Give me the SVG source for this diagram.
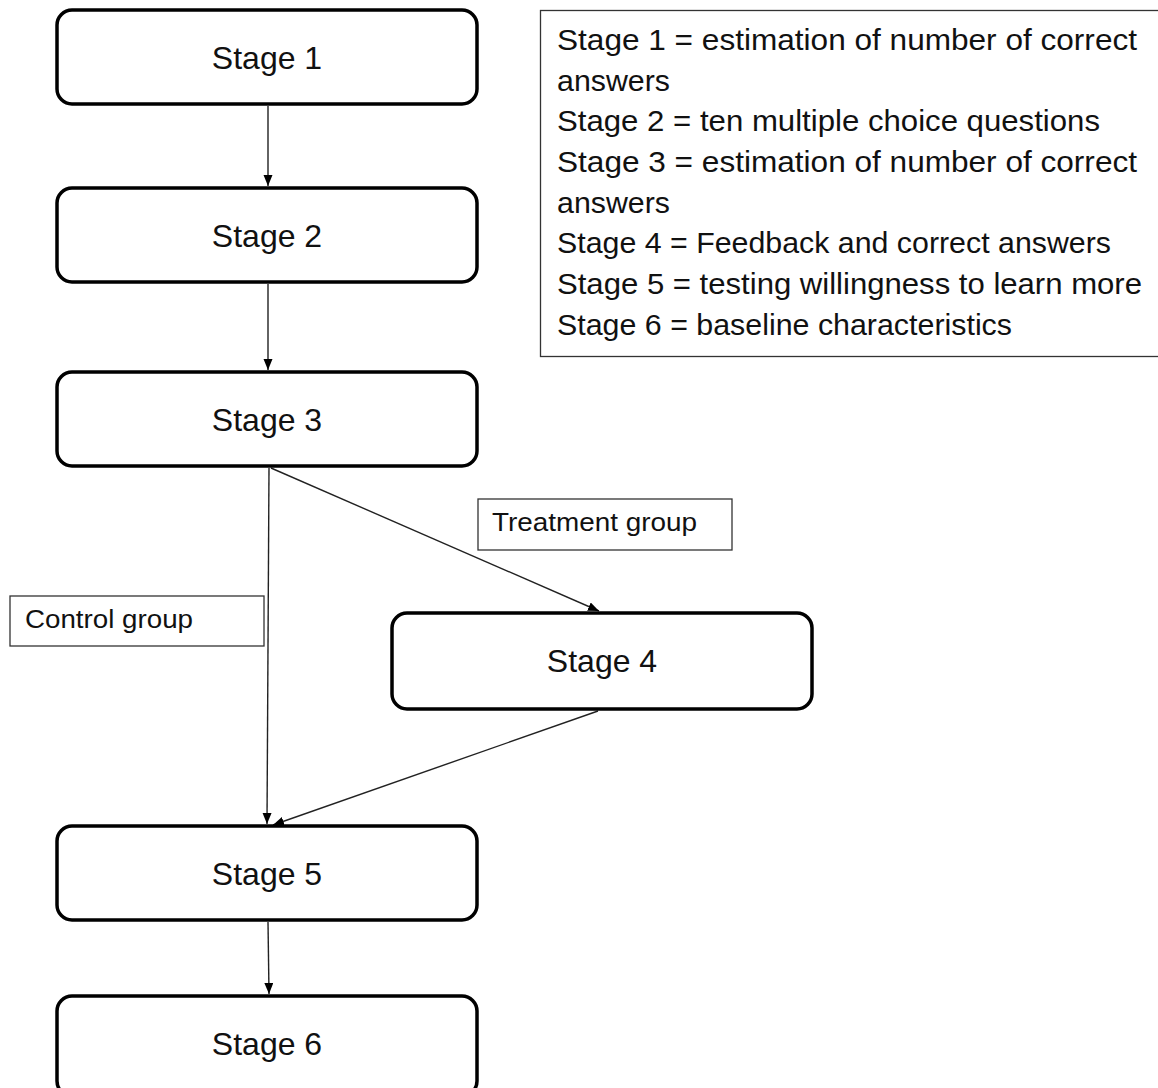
<svg xmlns="http://www.w3.org/2000/svg" width="1158" height="1088" viewBox="0 0 1158 1088">
<style>
.node{fill:#fff;stroke:#000;stroke-width:3.5}
.stxt{font-family:"Liberation Sans",Arial,sans-serif;font-size:32px;fill:#111;text-anchor:middle}
.lbl{fill:#fff;stroke:#333;stroke-width:1.3}
.ltxt{font-family:"Liberation Sans",Arial,sans-serif;font-size:26px;fill:#111}
.leg{font-family:"Liberation Sans",Arial,sans-serif;font-size:29px;fill:#111}
.conn{stroke:#222;stroke-width:1.4;fill:none;marker-end:url(#ah)}
</style>
<defs>
<marker id="ah" markerUnits="userSpaceOnUse" markerWidth="12" markerHeight="10" refX="11" refY="4.5" orient="auto">
<path d="M0,0 L11,4.5 L0,9 z" fill="#000"/>
</marker>
</defs>
<rect width="1158" height="1088" fill="#fff"/>
<g id="connectors">
<line class="conn" x1="268" y1="106" x2="268" y2="186"/>
<line class="conn" x1="268" y1="284" x2="268" y2="370"/>
<line class="conn" x1="269" y1="468" x2="267" y2="824"/>
<line class="conn" x1="271" y1="468" x2="599" y2="611"/>
<line class="conn" x1="598" y1="711" x2="273" y2="825"/>
<line class="conn" x1="268" y1="922" x2="269" y2="994"/>
</g>
<g id="stage1"><rect class="node" x="57" y="10" width="420" height="94" rx="15"/><text class="stxt" x="267" y="68.5">Stage 1</text></g>
<g id="stage2"><rect class="node" x="57" y="188" width="420" height="94" rx="15"/><text class="stxt" x="267" y="246.5">Stage 2</text></g>
<g id="stage3"><rect class="node" x="57" y="372" width="420" height="94" rx="15"/><text class="stxt" x="267" y="430.5">Stage 3</text></g>
<g id="stage4"><rect class="node" x="392" y="613" width="420" height="96" rx="15"/><text class="stxt" x="602" y="672">Stage 4</text></g>
<g id="stage5"><rect class="node" x="57" y="826" width="420" height="94" rx="15"/><text class="stxt" x="267" y="884.5">Stage 5</text></g>
<g id="stage6"><rect class="node" x="57" y="996" width="420" height="100" rx="15"/><text class="stxt" x="267" y="1054.5">Stage 6</text></g>
<g id="treatment-label"><rect class="lbl" x="478" y="499" width="254" height="51"/><text class="ltxt" x="492" y="531" textLength="205" lengthAdjust="spacingAndGlyphs">Treatment group</text></g>
<g id="control-label"><rect class="lbl" x="10" y="596" width="254" height="50"/><text class="ltxt" x="25" y="628" textLength="168" lengthAdjust="spacingAndGlyphs">Control group</text></g>
<g id="legend">
<rect x="540.5" y="10.5" width="630" height="346" fill="#fff" stroke="#333" stroke-width="1.3"/>
<text class="leg" x="557" y="50" textLength="580" lengthAdjust="spacingAndGlyphs">Stage 1 = estimation of number of correct</text>
<text class="leg" x="557" y="91" textLength="113" lengthAdjust="spacingAndGlyphs">answers</text>
<text class="leg" x="557" y="131" textLength="543" lengthAdjust="spacingAndGlyphs">Stage 2 = ten multiple choice questions</text>
<text class="leg" x="557" y="172" textLength="580" lengthAdjust="spacingAndGlyphs">Stage 3 = estimation of number of correct</text>
<text class="leg" x="557" y="213" textLength="113" lengthAdjust="spacingAndGlyphs">answers</text>
<text class="leg" x="557" y="253" textLength="554" lengthAdjust="spacingAndGlyphs">Stage 4 = Feedback and correct answers</text>
<text class="leg" x="557" y="294" textLength="585" lengthAdjust="spacingAndGlyphs">Stage 5 = testing willingness to learn more</text>
<text class="leg" x="557" y="335" textLength="455" lengthAdjust="spacingAndGlyphs">Stage 6 = baseline characteristics</text>
</g>
</svg>
